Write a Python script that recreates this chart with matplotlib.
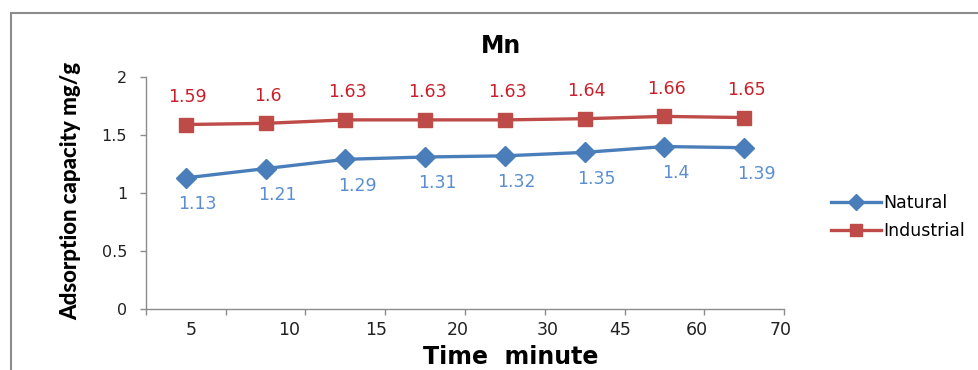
import matplotlib
matplotlib.use("Agg")
import numpy as np
import matplotlib.pyplot as plt
from matplotlib.patches import Rectangle

# adsorption of Mn over contact time
time_labels = ['5', '10', '15', '20', '30', '45', '60', '70']
natural = [1.13, 1.21, 1.29, 1.31, 1.32, 1.35, 1.4, 1.39]
industrial = [1.59, 1.6, 1.63, 1.63, 1.63, 1.64, 1.66, 1.65]

BLUE = '#4A7EBB'
RED = '#BE4B48'
GREY = '#8C8C8C'

fig = plt.figure(figsize=(9.79, 3.70), dpi=100)
ax = fig.add_axes([0.149, 0.165, 0.652, 0.627])

x = np.arange(len(time_labels))
ax.plot(x, natural, color=BLUE, lw=2.4, marker='D', ms=10, label='Natural')
ax.plot(x, industrial, color=RED, lw=2.4, marker='s', ms=10.5, label='Industrial')

for xi, v in zip(x, industrial):
    ax.annotate(f'{v:g}', (xi, v), xytext=(1.5, 20), textcoords='offset points',
                ha='center', va='center', color='#C8202A', fontsize=12.5)
for xi, v in zip(x, natural):
    ax.annotate(f'{v:g}', (xi, v), xytext=(8.5, -19), textcoords='offset points',
                ha='center', va='center', color='#5A8ED0', fontsize=12.5)

ax.set_xlim(-0.5, len(time_labels) - 0.5)
ax.set_ylim(0, 2)

# category boundaries get the tick marks, labels sit a little off-centre
ax.set_xticks(np.arange(len(time_labels) + 1) - 0.5, minor=True)
label_pos = [0.065, 1.30, 2.39, 3.41, 4.53, 5.44, 6.41, 7.45]
ax.set_xticks(label_pos, labels=time_labels)
ax.tick_params(axis='x', which='major', length=0, pad=9, labelsize=12.5, labelcolor='#222222')
ax.tick_params(axis='x', which='minor', length=4, width=1, color=GREY)

ax.set_yticks([0, 0.5, 1, 1.5, 2], labels=['0', '0.5', '1', '1.5', '2'])
ax.tick_params(axis='y', length=4.5, width=1, color=GREY, pad=9, labelsize=11.5,
               labelcolor='#222222')

for side in ('top', 'right'):
    ax.spines[side].set_visible(False)
for side in ('left', 'bottom'):
    ax.spines[side].set_color(GREY)
    ax.spines[side].set_linewidth(1)

fig.text(501 / 979, 1 - 46 / 370, 'Mn', ha='center', va='center',
         fontsize=17, fontweight='bold')
fig.text(511 / 979, 1 - 357 / 370, 'Time  minute', ha='center', va='center',
         fontsize=17, fontweight='bold')
fig.text(71 / 979, 1 - 191 / 370, 'Adsorption capacity mg/g', ha='center', va='center',
         rotation=90, fontsize=16, fontweight='black',
         family=['Lato', 'DejaVu Sans'])

ax.legend(loc='center left', bbox_to_anchor=(822 / 979, 1 - 217 / 370),
          bbox_transform=fig.transFigure, frameon=False, fontsize=12.5,
          handlelength=2.9, handletextpad=0.1, labelspacing=0.6, borderpad=0,
          markerscale=0.8)

# outer chart frame
fig.add_artist(Rectangle((11 / 979, -0.1), 1.2, 1.1 - 13 / 370, transform=fig.transFigure,
                         fill=False, ec=GREY, lw=1.5))

fig.savefig('out.png', dpi=100)
